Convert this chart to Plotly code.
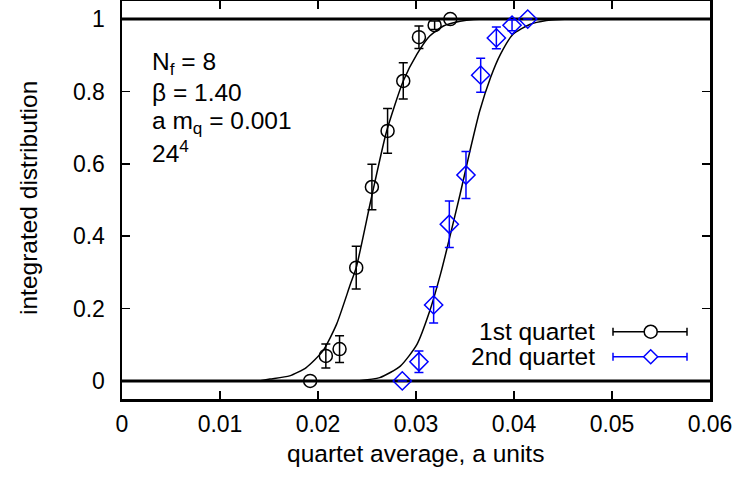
import plotly.graph_objects as go

# ---- data ----
q1_x = [0.0192, 0.0208, 0.0222, 0.0239, 0.0255, 0.0271, 0.0287, 0.0303, 0.0319, 0.0335]
q1_y = [0.0, 0.069, 0.088, 0.313, 0.536, 0.691, 0.829, 0.950, 0.983, 1.0]
q1_err = [None, 0.033, 0.037, 0.059, 0.063, 0.062, 0.050, 0.031, 0.012, None]

q2_x = [0.0286, 0.0303, 0.0318, 0.0334, 0.0351, 0.0366, 0.0382, 0.0398, 0.0414]
q2_y = [0.0, 0.053, 0.210, 0.433, 0.569, 0.845, 0.948, 0.983, 1.0]
q2_err = [None, 0.030, 0.050, 0.064, 0.065, 0.047, 0.030, 0.015, None]

fit1_x = [0.0140, 0.0151, 0.0171, 0.0188, 0.0205, 0.0219, 0.0233, 0.0239, 0.0254,
          0.0270, 0.0287, 0.0301, 0.0314, 0.0328, 0.0345, 0.0359, 0.0375]
fit1_y = [0.0, 0.005, 0.014, 0.037, 0.083, 0.157, 0.267, 0.313, 0.500,
          0.690, 0.829, 0.903, 0.953, 0.981, 0.994, 0.999, 1.0]

fit2_x = [0.0240, 0.0263, 0.0284, 0.0301, 0.0314, 0.0325, 0.0331, 0.0345, 0.0355,
          0.0365, 0.0376, 0.0386, 0.0399, 0.0416, 0.0433, 0.0447, 0.0460]
fit2_y = [0.0, 0.009, 0.041, 0.101, 0.193, 0.295, 0.359, 0.516, 0.635,
          0.746, 0.838, 0.902, 0.958, 0.985, 0.996, 0.999, 1.0]

x_ticks = [0, 0.01, 0.02, 0.03, 0.04, 0.05, 0.06]
x_tick_labels = ["0", "0.01", "0.02", "0.03", "0.04", "0.05", "0.06"]
y_ticks = [0, 0.2, 0.4, 0.6, 0.8, 1.0]
y_tick_labels = ["0", "0.2", "0.4", "0.6", "0.8", "1"]

series_names = ["1st quartet", "2nd quartet"]
info_lines = ["N<sub>f</sub> = 8", "β = 1.40", "a m<sub>q</sub> = 0.001", "24<sup>4</sup>"]

FONT = "Liberation Sans, Arial, sans-serif"
FS = 24.5
TFS = 23
BLUE = "#0000ff"

fig = go.Figure()

fig.add_trace(go.Scatter(x=fit1_x, y=fit1_y, mode="lines",
                         line=dict(color="black", width=1.5, shape="spline", smoothing=0.6),
                         showlegend=False, hoverinfo="skip"))
fig.add_trace(go.Scatter(x=fit2_x, y=fit2_y, mode="lines",
                         line=dict(color="black", width=1.5, shape="spline", smoothing=0.6),
                         showlegend=False, hoverinfo="skip"))

fig.add_trace(go.Scatter(
    x=q1_x, y=q1_y, mode="markers", name=series_names[0],
    marker=dict(symbol="circle-open", size=13, color="black", line=dict(width=1.5, color="black")),
    error_y=dict(type="data", array=q1_err, visible=True, color="black", thickness=1.5, width=4.5),
    showlegend=False))
fig.add_trace(go.Scatter(
    x=q2_x, y=q2_y, mode="markers", name=series_names[1],
    marker=dict(symbol="diamond-open", size=14, color=BLUE, line=dict(width=1.5, color=BLUE)),
    error_y=dict(type="data", array=q2_err, visible=True, color=BLUE, thickness=1.5, width=4.5),
    showlegend=False))

L, R, T, B = 122, 29, 1, 81
W, H = 739, 480
pw, ph = W - L - R, H - T - B

def px2paper_x(px):
    return (px - L) / pw

def px2paper_y(py):
    return (H - B - py) / ph

shapes = []
# horizontal reference lines at 0 and 1
for yv in (0, 1):
    shapes.append(dict(type="line", xref="paper", yref="y", x0=0, x1=1, y0=yv, y1=yv,
                       line=dict(color="black", width=3), layer="below"))

# manual gnuplot-style legend
leg_rows = [331.7, 356.7]
leg_cols = ["black", BLUE]
lx0, lx1, lm = px2paper_x(613), px2paper_x(687), px2paper_x(650.7)
cap = 4 / ph
annotations = []
for i, (row, col) in enumerate(zip(leg_rows, leg_cols)):
    yp = px2paper_y(row)
    shapes.append(dict(type="line", xref="paper", yref="paper", x0=lx0, x1=lx1, y0=yp, y1=yp,
                       line=dict(color=col, width=1.5)))
    for xc in (lx0, lx1):
        shapes.append(dict(type="line", xref="paper", yref="paper", x0=xc, x1=xc,
                           y0=yp - cap, y1=yp + cap, line=dict(color=col, width=1.5)))
    if i == 0:
        shapes.append(dict(type="circle", xref="paper", yref="paper", xsizemode="pixel",
                           ysizemode="pixel", xanchor=lm, yanchor=yp, x0=-6.5, x1=6.5,
                           y0=-6.5, y1=6.5, fillcolor="white", line=dict(color=col, width=1.5)))
    else:
        shapes.append(dict(type="path", xref="paper", yref="paper", xsizemode="pixel",
                           ysizemode="pixel", xanchor=lm, yanchor=yp,
                           path="M0,-7 L7,0 L0,7 L-7,0 Z",
                           fillcolor="white", line=dict(color=col, width=1.5)))
    annotations.append(dict(text=series_names[i], xref="paper", yref="paper",
                            x=px2paper_x(597), y=yp, xanchor="right", yanchor="middle",
                            showarrow=False, font=dict(family=FONT, size=FS, color="black")))

# info text block
for i, (txt, cy) in enumerate(zip(info_lines, [63, 92.5, 122, 151])):
    annotations.append(dict(text=txt, xref="paper", yref="paper", x=px2paper_x(150),
                            y=px2paper_y(cy), xanchor="left", yanchor="middle",
                            showarrow=False, font=dict(family=FONT, size=FS, color="black")))

# axis titles
annotations.append(dict(text="quartet average, a units", xref="paper", yref="paper",
                        x=px2paper_x(415), y=px2paper_y(453), xanchor="center", yanchor="middle",
                        showarrow=False, font=dict(family=FONT, size=FS, color="black")))
annotations.append(dict(text="integrated distribution", xref="paper", yref="paper",
                        x=px2paper_x(28), y=px2paper_y(198), xanchor="center", yanchor="middle",
                        textangle=-90, showarrow=False,
                        font=dict(family=FONT, size=FS, color="black")))

fig.update_layout(
    width=W, height=H,
    margin=dict(l=L, r=R, t=T, b=B, pad=0, autoexpand=False),
    paper_bgcolor="white", plot_bgcolor="white",
    font=dict(family=FONT, size=FS, color="black"),
    shapes=shapes, annotations=annotations,
    showlegend=False, hovermode=False,
)
fig.update_xaxes(range=[0, 0.06], tickvals=x_ticks, ticktext=x_tick_labels, automargin=False,
                 showgrid=False, zeroline=False, showline=True, linewidth=2.5, linecolor="black",
                 mirror="ticks", ticks="inside", ticklen=8, tickwidth=1.5, tickcolor="black",
                 ticklabelstandoff=3, tickfont=dict(size=TFS))
fig.update_yaxes(range=[-0.05, 1.05], tickvals=y_ticks, ticktext=y_tick_labels, automargin=False,
                 showgrid=False, zeroline=False, showline=True, linewidth=2.5, linecolor="black",
                 mirror="ticks", ticks="inside", ticklen=8, tickwidth=1.5, tickcolor="black",
                 ticklabelstandoff=10, tickfont=dict(size=TFS))

fig.write_html("out.html", config={"displayModeBar": False, "staticPlot": True},
               post_script="document.body.style.margin='0';document.body.style.padding='0';")
